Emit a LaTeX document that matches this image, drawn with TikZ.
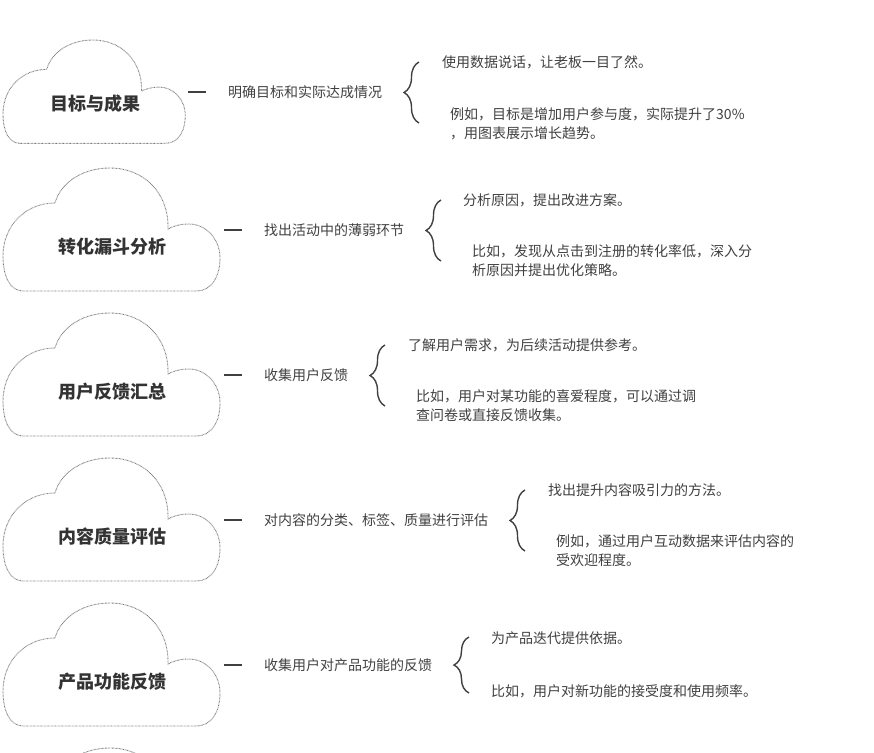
\documentclass[tikz,border=0pt]{standalone}
\usepackage{fontspec}
\usepackage{tikz}
\usetikzlibrary{decorations.pathreplacing}
\newfontfamily\cjk{Noto Sans CJK SC}
\definecolor{inkgray}{HTML}{404040}
\definecolor{rimgray}{HTML}{7A7A7A}

\begin{document}
\begin{tikzpicture}[x=1pt,y=-1pt,
    rim/.style={draw=rimgray,line width=0.9pt,dash pattern=on 0.7pt off 0.7pt},
    cloud/.pic={\draw[rim] (20,123) -- (193,123) .. controls (210,123) and (217,107) .. (217,90)
        .. controls (217,70) and (202,56) .. (186,56) .. controls (178,56) and (170,58) .. (165,61)
        .. controls (166,24) and (140,0) .. (107,0) .. controls (80,0) and (58,14) .. (52,35)
        .. controls (22,35) and (0,58) .. (0,88) .. controls (0,110) and (8,123) .. (20,123) -- cycle;},
    title/.style={font=\cjk\bfseries\fontsize{18}{22}\selectfont,text=inkgray!80!black,inner sep=0pt},
    desc/.style={font=\cjk\fontsize{14}{19}\selectfont,text=inkgray,anchor=west,inner sep=0pt,align=left},
    bar/.style={draw=inkgray,line width=2.6pt},
    brc/.style={draw=inkgray,line width=1.4pt,decorate,decoration={brace,amplitude=15pt}}]

\useasboundingbox (0,0) rectangle (874,752);
\clip (0,0) rectangle (874,752);

% row 1
\pic[scale=0.84] at (3,40) {cloud};
\node[title] (t1) at (95,104) {目标与成果};
\node[desc] (d1) at (228,92) {明确目标和实际达成情况};
\node[desc] (a1) at (442,62) {使用数据说话，让老板一目了然。};
\node[desc] (e1) at (450,123.5) {例如，目标是增加用户参与度，实际提升了30\%\\，用图表展示增长趋势。};
\coordinate (u1) at (419,62);
\coordinate (l1) at (419,123);
\draw[bar] ([xshift=-40pt]d1.west) -- ([xshift=-22pt]d1.west);
\draw[brc] (l1) -- (u1);

% row 2
\pic at (3,168) {cloud};
\node[title] (t2) at (112,247) {转化漏斗分析};
\node[desc] (d2) at (264,230) {找出活动中的薄弱环节};
\node[desc] (a2) at (463,200) {分析原因，提出改进方案。};
\node[desc] (e2) at (472,261) {比如，发现从点击到注册的转化率低，深入分\\析原因并提出优化策略。};
\coordinate (u2) at (441,200);
\coordinate (l2) at (441,261);
\draw[bar] ([xshift=-40pt]d2.west) -- ([xshift=-22pt]d2.west);
\draw[brc] (l2) -- (u2);

% row 3
\pic at (3,313) {cloud};
\node[title] (t3) at (112,392) {用户反馈汇总};
\node[desc] (d3) at (264,375) {收集用户反馈};
\node[desc] (a3) at (408,345) {了解用户需求，为后续活动提供参考。};
\node[desc] (e3) at (416,406) {比如，用户对某功能的喜爱程度，可以通过调\\查问卷或直接反馈收集。};
\coordinate (u3) at (385,345);
\coordinate (l3) at (385,406);
\draw[bar] ([xshift=-40pt]d3.west) -- ([xshift=-22pt]d3.west);
\draw[brc] (l3) -- (u3);

% row 4
\pic at (3,458) {cloud};
\node[title] (t4) at (112,537) {内容质量评估};
\node[desc] (d4) at (264,520) {对内容的分类、标签、质量进行评估};
\node[desc] (a4) at (548,490) {找出提升内容吸引力的方法。};
\node[desc] (e4) at (556,551) {例如，通过用户互动数据来评估内容的\\受欢迎程度。};
\coordinate (u4) at (525,490);
\coordinate (l4) at (525,551);
\draw[bar] ([xshift=-40pt]d4.west) -- ([xshift=-22pt]d4.west);
\draw[brc] (l4) -- (u4);

% row 5
\pic at (3,603) {cloud};
\node[title] (t5) at (112,682) {产品功能反馈};
\node[desc] (d5) at (264,665) {收集用户对产品功能的反馈};
\node[desc] (a5) at (491,638) {为产品迭代提供依据。};
\node[desc] (e5) at (491,691) {比如，用户对新功能的接受度和使用频率。};
\coordinate (u5) at (469,637);
\coordinate (l5) at (469,693);
\draw[bar] ([xshift=-40pt]d5.west) -- ([xshift=-22pt]d5.west);
\draw[brc] (l5) -- (u5);

% next cloud, cut off
\pic at (3,748) {cloud};
\end{tikzpicture}
\end{document}
